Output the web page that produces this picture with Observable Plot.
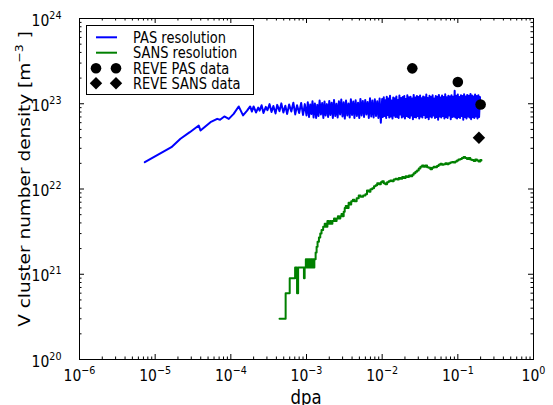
<!DOCTYPE html>
<html><head><meta charset="utf-8">
<script src="https://cdn.jsdelivr.net/npm/d3@7"></script>
<script src="https://cdn.jsdelivr.net/npm/@observablehq/plot@0.6"></script>
<style>
body{margin:0;background:#fff;}
#chart{position:relative;width:553px;height:405px;}
svg{font-family:"DejaVu Sans";}
</style></head><body><div id="chart"></div>
<script>
// ---- data ----
const PAS_UNIT = 1e22;   // PAS resolution values in units of 1e22 m^-3
const SANS_UNIT = 1e21;  // SANS resolution values in units of 1e21 m^-3
const pasData = [
  [7.3e-6,2.06],[1.64e-5,3.09],[2.16e-5,3.88],[2.87e-5,4.64],[3.77e-5,5.56],[3.97e-5,4.85],[5.38e-5,6.08],[6.6e-5,6.65],[7.2e-5,6.5],[8.2e-5,7.1],[9.4e-5,6.65],[1.09e-4,7.6],[1.27e-4,9.3],[1.45e-4,7.3],[1.64e-4,8.3],[1.8e-4,9.3],
  [1.9e-4,8.1],[2.0e-4,9.3],[2.15e-4,7.9],[2.3e-4,9.0],[2.4e-4,8.3],[2.55e-4,9.6],[2.7e-4,7.8],[2.9e-4,9.2],[3.05e-4,8.4],[3.25e-4,9.9],[3.45e-4,8.0],[3.65e-4,9.4],[3.9e-4,7.7],[4.1e-4,9.7],[4.4e-4,8.2],[4.65e-4,10.1],[4.95e-4,7.9],[5.25e-4,9.5],[5.55e-4,7.6],[5.9e-4,9.8],[6.3e-4,8.1],[6.7e-4,10.3],[7.1e-4,7.5],[7.5e-4,9.6],[8.0e-4,7.8],[8.5e-4,10.2],[9.0e-4,7.4],[9.5e-4,9.9],
  [1.00e-3,7.3],[1.04e-3,10.4],[1.08e-3,7.0],[1.12e-3,9.8],[1.16e-3,7.6],[1.20e-3,10.7],[1.24e-3,6.9],[1.29e-3,10.1],[1.34e-3,6.8],[1.39e-3,9.7],[1.44e-3,7.2],[1.49e-3,10.9],[1.55e-3,7.5],[1.61e-3,10.2],[1.67e-3,6.8],[1.73e-3,10.6],[1.79e-3,7.3],[1.86e-3,9.9],[1.93e-3,7.0],[2.00e-3,10.8],[2.07e-3,7.4],[2.15e-3,10.3],[2.23e-3,6.8],[2.31e-3,11.1],[2.40e-3,7.2],[2.49e-3,10.0],[2.58e-3,6.9],[2.68e-3,10.7],[2.78e-3,7.5],[2.88e-3,11.2],[2.99e-3,7.1],[3.10e-3,10.4],[3.21e-3,6.7],[3.33e-3,10.9],[3.46e-3,7.3],[3.59e-3,10.1],[3.72e-3,6.9],[3.86e-3,11.3],[4.00e-3,7.4],[4.15e-3,10.6],[4.30e-3,6.8],[4.46e-3,11.0],[4.63e-3,7.2],[4.80e-3,10.3],[4.98e-3,6.8],[5.16e-3,11.4],[5.35e-3,7.3],[5.55e-3,10.8],[5.76e-3,7.0],[5.97e-3,11.1],[6.19e-3,7.5],[6.42e-3,10.5],[6.66e-3,6.8],[6.91e-3,11.6],[7.17e-3,7.1],[7.43e-3,10.9],[7.71e-3,6.9],[8.00e-3,11.3],[8.29e-3,7.2],[8.60e-3,10.7],[8.92e-3,6.8],[9.25e-3,11.5],[9.60e-3,6.0],
  [0.0100,11.4],[0.0102,7.0],[0.0105,11.9],[0.0107,7.2],[0.0110,11.0],[0.0113,6.8],[0.0115,12.1],[0.0118,7.4],[0.0121,11.5],[0.0124,6.9],[0.0127,12.4],[0.0130,7.1],[0.0133,10.9],[0.0137,6.7],[0.0140,11.8],[0.0143,7.3],[0.0147,11.6],[0.0150,7.0],[0.0154,12.2],[0.0158,7.0],[0.0162,11.1],[0.0165,6.8],[0.0169,12.5],[0.0174,7.5],[0.0178,11.7],[0.0182,6.9],[0.0187,12.0],[0.0191,7.1],[0.0196,12.3],[0.0200,6.7],
  [0.0205,11.4],[0.0210,7.2],[0.0215,12.6],[0.0221,7.0],[0.0226,11.9],[0.0232,6.8],[0.0237,12.1],[0.0243,7.3],[0.0249,11.5],[0.0255,6.6],[0.0261,12.7],[0.0268,7.0],[0.0274,11.8],[0.0281,6.9],[0.0288,12.3],[0.0295,7.2],[0.0302,12.0],[0.0309,6.7],[0.0317,12.5],[0.0324,7.1],[0.0332,11.6],[0.0340,6.9],[0.0348,12.2],[0.0357,7.4],[0.0365,11.9],[0.0374,6.8],[0.0383,12.8],[0.0392,7.0],[0.0402,11.7],[0.0412,6.6],
  [0.0422,12.4],[0.0432,7.1],[0.0442,12.0],[0.0453,6.9],[0.0464,12.6],[0.0475,7.3],[0.0487,11.5],[0.0499,6.8],[0.0511,12.3],[0.0523,7.0],[0.0536,12.1],[0.0549,6.5],[0.0562,12.7],[0.0576,7.1],[0.0590,11.8],[0.0604,6.9],[0.0619,12.5],[0.0634,7.2],[0.0649,12.0],[0.0665,6.7],[0.0681,12.9],[0.0698,7.0],[0.0715,11.9],[0.0732,6.8],[0.0750,12.4],[0.0768,7.3],[0.0787,12.2],[0.0806,6.6],[0.0825,12.6],[0.0845,7.0],
  [0.0866,12.1],[0.0887,7.1],[0.0908,14.2],[0.0930,6.9],[0.0953,12.4],[0.0976,6.7],[0.100,12.8],[0.102,7.0],[0.105,12.0],[0.107,6.8],[0.110,12.6],[0.113,7.2],[0.115,12.3],[0.118,6.5],[0.121,12.9],[0.124,7.0],[0.127,12.2],[0.130,6.7],[0.133,12.7],[0.137,7.1],[0.140,12.4],[0.143,6.9],[0.147,13.0],[0.150,6.6],[0.154,12.5],[0.158,7.0],[0.162,12.2],[0.165,6.8],[0.169,12.8],[0.174,7.1],[0.178,12.3],[0.182,6.7],[0.187,12.6],[0.191,7.0],[0.196,12.0],[0.200,9.0]
];
const sansData = [
  [4.4e-4,0.3],[5.3e-4,0.6],[6.0e-4,0.9],[7.07e-4,1.2],[7.5e-4,0.6],[7.75e-4,1.2],[9.25e-4,0.9],[9.45e-4,1.2],[9.8e-4,1.5],[1.0e-3,1.2],[1.03e-3,1.5],[1.06e-3,1.2],[1.09e-3,1.5],[1.12e-3,1.2],[1.15e-3,1.5],[1.18e-3,1.2],[1.21e-3,1.5],[1.24e-3,1.2],[1.27e-3,1.5],
  [1.32e-3,1.8],[1.36e-3,2.1],[1.4e-3,2.4],[1.46e-3,2.7],[1.52e-3,3.0],[1.58e-3,3.3],[1.66e-3,3.6],[1.74e-3,3.9],[1.82e-3,3.6],[1.89e-3,4.2],[1.96e-3,3.9],[2.04e-3,4.2],[2.12e-3,3.9],[2.2e-3,4.2],[2.31e-3,4.5],[2.4e-3,4.2],[2.5e-3,4.5],[2.6e-3,4.8],[2.7e-3,4.5],[2.8e-3,4.8],[2.9e-3,5.1],[3.0e-3,4.8],[3.1e-3,5.4],[3.2e-3,6.0],[3.3e-3,6.3],[3.45e-3,6.0],[3.6e-3,6.9],[3.75e-3,6.6],[3.9e-3,7.2],[4.1e-3,7.5],[4.3e-3,7.2],[4.6e-3,7.8],[4.9e-3,8.4],[5.2e-3,8.1],[5.6e-3,8.4],[6.0e-3,8.7],[6.3e-3,9.6],[6.7e-3,9.3],[7.0e-3,9.9],[7.4e-3,10.2],[7.8e-3,10.8],[8.2e-3,11.1],[8.6e-3,11.7],[9.1e-3,11.4],[9.6e-3,12.0],
  [1.0e-2,12.3],[1.05e-2,11.7],[1.1e-2,11.4],[1.16e-2,12.0],[1.22e-2,12.3],[1.28e-2,12.6],[1.35e-2,12.3],[1.42e-2,12.9],[1.5e-2,13.2],[1.58e-2,12.9],[1.66e-2,13.5],[1.75e-2,13.2],[1.84e-2,13.8],[1.94e-2,13.5],[2.04e-2,14.1],[2.15e-2,13.8],[2.26e-2,14.4],[2.38e-2,14.1],[2.5e-2,14.7],[2.61e-2,15.3],[2.75e-2,15.9],[2.89e-2,16.5],[3.04e-2,17.4],[3.2e-2,18.3],[3.37e-2,18.9],[3.54e-2,18.3],[3.72e-2,18.9],[3.92e-2,18.0],[4.12e-2,17.7],[4.34e-2,17.1],[4.56e-2,17.7],[4.8e-2,18.3],[5.04e-2,18.0],[5.3e-2,18.6],[5.58e-2,19.2],[5.87e-2,19.8],[6.17e-2,19.2],[6.5e-2,19.5],[6.84e-2,20.1],[7.2e-2,19.5],[7.57e-2,20.1],[7.96e-2,20.4],[8.38e-2,20.7],[8.8e-2,20.4],[9.26e-2,21.0],[9.74e-2,21.6],
  [0.102,22.2],[0.108,22.5],[0.113,23.1],[0.119,23.7],[0.125,23.1],[0.132,22.5],[0.139,23.1],[0.146,22.2],[0.153,21.9],[0.162,21.3],[0.17,22.2],[0.179,21.6],[0.188,21.0],[0.198,21.9],[0.205,21.6]
];
const revePasDpa = [0.025, 0.1, 0.2];
const revePasDensity = [2.6e23, 1.8e23, 9.8e22];
const reveSansDpa = [0.19];
const reveSansDensity = [4.0e22];
const xTickValues = [1e-6, 1e-5, 1e-4, 1e-3, 1e-2, 1e-1, 1];
const xTickLabels = ["10^-6", "10^-5", "10^-4", "10^-3", "10^-2", "10^-1", "10^0"];
const yTickValues = [1e20, 1e21, 1e22, 1e23, 1e24];
const yTickLabels = ["10^20", "10^21", "10^22", "10^23", "10^24"];
const legendLabels = ["PAS resolution", "SANS resolution", "REVE PAS data", "REVE SANS data"];
const xTitle = "dpa";
const yTitle = ["V cluster number density [m", "-3", " ]"];

// ---- layout ----
const W = 553, H = 405, mL = 79, mR = 20, mT = 18, mB = 46;
const innerW = W - mL - mR, innerH = H - mT - mB;
const MAJ = 5, MIN = 2.5, SX = 0.87;
const BLUE = "#0000ff", GREEN = "#008000";
const minorOf = majors => majors.slice(0, -1).flatMap(v => [2,3,4,5,6,7,8,9].map(m => m * v));
const xMinor = minorOf(xTickValues), yMinor = minorOf(yTickValues);

const svg = Plot.plot({
  width: W, height: H, marginLeft: mL, marginRight: mR, marginTop: mT, marginBottom: mB,
  style: {fontFamily: "DejaVu Sans", fontSize: "16px", background: "white", color: "black", overflow: "visible"},
  x: {type: "log", domain: [1e-6, 1]},
  y: {type: "log", domain: [1e20, 1e24]},
  marks: [
    Plot.line(pasData, {x: d => d[0], y: d => d[1] * PAS_UNIT, stroke: BLUE, strokeWidth: 2}),
    Plot.line(sansData, {x: d => d[0], y: d => d[1] * SANS_UNIT, stroke: GREEN, strokeWidth: 2, curve: "step-after"}),
    Plot.dot(revePasDpa, {x: d => d, y: (d, i) => revePasDensity[i], r: 5.3, fill: "black", stroke: null, symbol: "circle"}),
    Plot.dot(reveSansDpa, {x: d => d, y: (d, i) => reveSansDensity[i], r: 5.6, fill: "black", stroke: null, symbol: "diamond2"}),
    // inward ticks on all four sides
    Plot.tickX(xTickValues, {x: d => d, insetTop: innerH - MAJ, stroke: "black"}),
    Plot.tickX(xTickValues, {x: d => d, insetBottom: innerH - MAJ, stroke: "black"}),
    Plot.tickX(xMinor, {x: d => d, insetTop: innerH - MIN, stroke: "black"}),
    Plot.tickX(xMinor, {x: d => d, insetBottom: innerH - MIN, stroke: "black"}),
    Plot.tickY(yTickValues, {y: d => d, insetRight: innerW - MAJ, stroke: "black"}),
    Plot.tickY(yTickValues, {y: d => d, insetLeft: innerW - MAJ, stroke: "black"}),
    Plot.tickY(yMinor, {y: d => d, insetRight: innerW - MIN, stroke: "black"}),
    Plot.tickY(yMinor, {y: d => d, insetLeft: innerW - MIN, stroke: "black"}),
    Plot.frame({stroke: "black"}),
    Plot.axisX({ticks: xTickValues, tickFormat: d => xTickLabels[xTickValues.indexOf(d)], tickSize: 0, tickPadding: 10, label: null, fontSize: 16}),
    Plot.axisY({ticks: yTickValues, tickFormat: d => yTickLabels[yTickValues.indexOf(d)], tickSize: 0, tickPadding: 18, label: null, fontSize: 16, dy: 2})
  ]
});

const NS = "http://www.w3.org/2000/svg";
function addSup(t, label, basePx, expPx) {
  const [base, exp] = label.split("^");
  t.textContent = "";
  t.style.fontSize = basePx + "px";
  t.setAttribute("fill", "black");
  const a = document.createElementNS(NS, "tspan"); a.textContent = base; t.appendChild(a);
  const b = document.createElementNS(NS, "tspan"); b.textContent = exp.replace("-", "\u2212");
  b.setAttribute("dy", "-7"); b.style.fontSize = expPx + "px"; t.appendChild(b);
}
function squeeze(t) {
  const tr = t.getAttribute("transform") || "";
  t.setAttribute("transform", tr + ` scale(${SX},1)`);
}
svg.querySelectorAll('g[aria-label="x-axis tick label"] text, g[aria-label="y-axis tick label"] text').forEach(t => {
  addSup(t, t.textContent, 16, 11);
  squeeze(t);
});

const s = d3.select(svg);
// axis titles
s.append("text").attr("transform", `translate(${(mL + W - mR) / 2},404) scale(${SX},1)`)
  .attr("text-anchor", "middle").attr("font-size", 19).attr("fill", "black").text(xTitle);
const yt = s.append("text").attr("transform", `translate(30,179) scale(${SX},1) rotate(-90)`)
  .attr("text-anchor", "middle").attr("font-size", 18.5).attr("fill", "black");
yt.append("tspan").text(yTitle[0]);
yt.append("tspan").attr("dy", -8).attr("font-size", 12.5).text(yTitle[1].replace("-", "\u2212"));
yt.append("tspan").attr("dy", 8).text(yTitle[2]);

// legend
const lg = s.append("g").attr("text-anchor", "start");
lg.append("rect").attr("x", 86.5).attr("y", 25.5).attr("width", 167).attr("height", 69)
  .attr("fill", "white").attr("stroke", "black");
const rows = [37.3, 52.7, 68.3, 83.3];
const colors = [BLUE, GREEN];
[0, 1].forEach(i => lg.append("line").attr("x1", 96).attr("x2", 117).attr("y1", rows[i]).attr("y2", rows[i])
  .attr("stroke", colors[i]).attr("stroke-width", 2));
[96, 116].forEach(x => {
  lg.append("circle").attr("cx", x).attr("cy", rows[2]).attr("r", 5.3).attr("fill", "black");
  lg.append("path").attr("d", d3.symbol(d3.symbolDiamond2, Math.PI * 5.6 * 5.6)())
    .attr("transform", `translate(${x},${rows[3]})`).attr("fill", "black");
});
legendLabels.forEach((lab, i) => {
  lg.append("text").attr("transform", `translate(133,${rows[i] + 5.2}) scale(${SX},1)`)
    .attr("text-anchor", "start").attr("font-size", 15).attr("fill", "black").text(lab);
});

document.getElementById("chart").appendChild(svg);
</script></body></html>
